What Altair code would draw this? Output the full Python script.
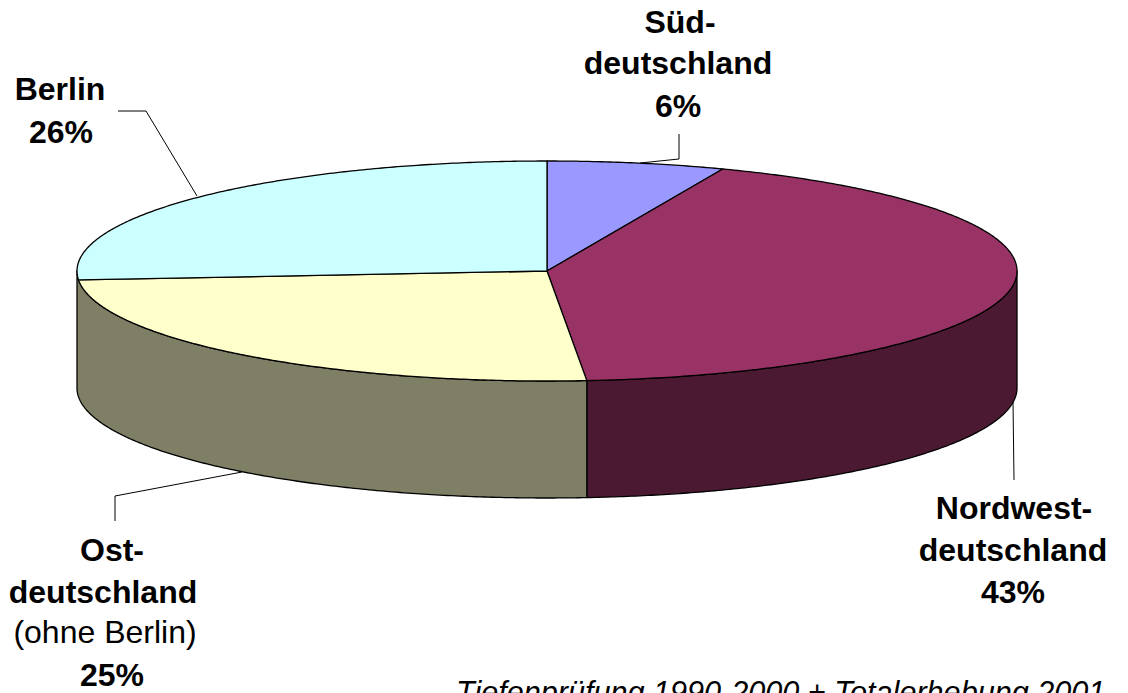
import math
import altair as alt
import pandas as pd

# --- values ---
regions = ["Süddeutschland", "Nordwestdeutschland", "Ostdeutschland", "Berlin"]
shares = [6.1, 42.55, 25.05, 26.3]        # drawn angle of each slice, percent
top_colors = ["#9999FF", "#993366", "#FFFFCC", "#CCFFFF"]
wall_colors = [None, "#4C1933", "#7F7F66", None]

# pie geometry in picture pixels
CX, CY, RX, RY, DEPTH = 547, 271, 470, 110, 117
W, H = 1120, 693

bold_text = ["Süd-", "deutschland", "6%", "Nordwest-", "deutschland", "43%",
             "Ost-", "deutschland", "25%", "Berlin", "26%"]
bold_x = [680, 678, 678, 1014, 1013, 1013, 112, 103, 112, 60, 61]
bold_y = [33, 74, 117, 519, 561, 603, 561, 603, 686, 100, 143]

leaders_x = [[118, 146, 197], [679, 679, 640], [1013, 1014], [242, 115, 115]]
leaders_y = [[111, 111, 196], [134, 159, 163], [402, 480], [472, 496, 521]]

FONT = "Liberation Sans"
SIZE = 32

xs = alt.Scale(domain=[8, 8 + W - 16], range=[0, W - 16], nice=False, zero=False)
ys = alt.Scale(domain=[8, 8 + H - 8], range=[0, H - 8], nice=False, zero=False)
X = alt.X("x:Q", scale=xs, axis=None)
Y = alt.Y("y:Q", scale=ys, axis=None)


def rim(theta_deg, drop=0):
    t = math.radians(theta_deg)
    return CX + RX * math.sin(t), CY - RY * math.cos(t) + drop


def arc(a, b, drop=0):
    n = max(2, int(abs(b - a) * 2))
    return [rim(a + (b - a) * k / n, drop) for k in range(n + 1)]


def polygon(points, fill, sw=1.3):
    df = pd.DataFrame(points, columns=["x", "y"])
    df["i"] = range(len(df))
    return alt.Chart(df).mark_line(
        filled=True, fill=fill, stroke="black", strokeWidth=sw,
        interpolate="linear-closed", strokeJoin="round",
    ).encode(x=X, y=Y, order="i:Q")


edges = [0]
for s in shares:
    edges.append(edges[-1] + s * 3.6)

layers = []
# side walls (front half of the rim only)
layers.append(polygon(arc(90, edges[2]) + arc(edges[2], 90, DEPTH), wall_colors[1]))
layers.append(polygon(arc(edges[2], 270) + arc(270, edges[2], DEPTH), wall_colors[2]))
# top slices
for i, c in enumerate(top_colors):
    layers.append(polygon([(CX, CY)] + arc(edges[i], edges[i + 1]), c))

# leader lines
for lx, ly in zip(leaders_x, leaders_y):
    df = pd.DataFrame({"x": lx, "y": ly, "i": range(len(lx))})
    layers.append(alt.Chart(df).mark_line(color="black", strokeWidth=1).encode(x=X, y=Y, order="i:Q"))

# labels
bold_df = pd.DataFrame({"x": bold_x, "y": bold_y, "t": bold_text})
layers.append(alt.Chart(bold_df).mark_text(
    font=FONT, fontSize=SIZE, fontWeight="bold", color="black",
    align="center", baseline="alphabetic").encode(x=X, y=Y, text="t:N"))
layers.append(alt.Chart(pd.DataFrame({"x": [105], "y": [643], "t": ["(ohne Berlin)"]})).mark_text(
    font=FONT, fontSize=SIZE, color="black",
    align="center", baseline="alphabetic").encode(x=X, y=Y, text="t:N"))
layers.append(alt.Chart(pd.DataFrame({"x": [456], "y": [703], "t": ["Tiefenprüfung 1990-2000 + Totalerhebung 2001"]})).mark_text(
    font=FONT, fontSize=30.6, fontStyle="italic", color="black",
    align="left", baseline="alphabetic", clip=False).encode(x=X, y=Y, text="t:N"))

chart = alt.layer(*layers).properties(
    width=W - 16, height=H - 8, padding=0,
    autosize=alt.AutoSizeParams(type="none"),
    background="white",
).configure_view(stroke=None)

chart.save("out.html", embed_options={"renderer": "svg", "actions": False})
